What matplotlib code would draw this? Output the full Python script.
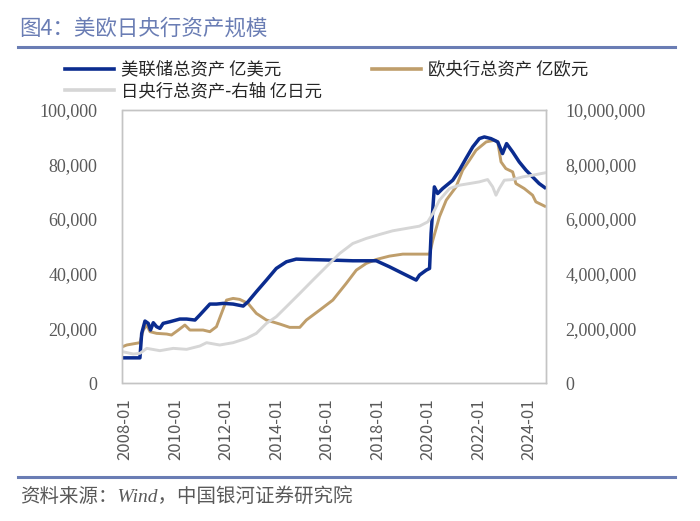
import matplotlib
matplotlib.use('Agg')
import matplotlib.pyplot as plt
from matplotlib.lines import Line2D
from matplotlib.ticker import FuncFormatter

plt.rcParams['font.family'] = ['Noto Sans CJK SC', 'DejaVu Sans']

# data (decimal years)
fed_t = [2007.90, 2008.59, 2008.66, 2008.79, 2008.92, 2009.01, 2009.12, 2009.25, 2009.38, 2009.51,
         2009.78, 2010.17, 2010.44, 2010.77, 2010.96, 2011.36, 2011.62, 2011.89, 2012.28, 2012.68,
         2012.87, 2013.20, 2013.60, 2013.99, 2014.39, 2014.78, 2015.18, 2016.23, 2017.02, 2017.95,
         2018.47, 2019.00, 2019.53, 2019.66, 2019.93, 2020.06, 2020.12, 2020.25, 2020.38, 2020.58,
         2020.98, 2021.24, 2021.50, 2021.77, 2022.03, 2022.23, 2022.49, 2022.76, 2022.95, 2023.11,
         2023.35, 2023.61, 2023.88, 2024.14, 2024.40, 2024.62]
fed_v = [9300, 9300, 18250, 22750, 21900, 19460, 22140, 20680, 20070, 21900,
         22500, 23480, 23480, 23110, 24940, 28950, 28950, 29200, 28950, 28220,
         29800, 33450, 37710, 41970, 44400, 45380, 45250, 45000, 44770, 44770,
         42580, 40140, 37710, 39540, 41360, 41970, 54740, 71770, 69340, 71170,
         74210, 77860, 82110, 86370, 89410, 90020, 89410, 88200, 83940, 87590,
         84550, 80900, 77860, 75420, 72990, 71530]

ecb_t = [2007.90, 2008.07, 2008.59, 2008.72, 2008.86, 2008.99, 2009.25, 2009.65, 2009.84, 2010.11,
         2010.37, 2010.57, 2010.83, 2011.09, 2011.36, 2011.62, 2011.82, 2012.02, 2012.28, 2012.54,
         2012.87, 2013.20, 2013.60, 2014.13, 2014.52, 2014.92, 2015.18, 2015.71, 2016.23, 2016.76,
         2017.16, 2017.55, 2017.95, 2018.47, 2019.00, 2019.66, 2020.06, 2020.19, 2020.45, 2020.72,
         2021.11, 2021.37, 2021.64, 2021.90, 2022.30, 2022.63, 2022.76, 2022.89, 2023.08, 2023.35,
         2023.48, 2023.81, 2024.14, 2024.27, 2024.62]
ecb_v = [13380, 14000, 14840, 19460, 21290, 18860, 18250, 18000, 17640, 19460,
         21290, 19460, 19460, 19460, 18860, 20680, 25550, 30410, 31020, 30660,
         29200, 25550, 23110, 21650, 20440, 20440, 23110, 26760, 30410, 36500,
         41360, 43790, 45250, 46470, 47200, 47200, 47200, 52310, 60830, 66910,
         71770, 77860, 81510, 85160, 88200, 88800, 88200, 80900, 78460, 77250,
         72990, 71170, 68730, 66300, 64720]

boj_t = [2007.90, 2008.33, 2008.59, 2008.86, 2009.38, 2009.91, 2010.44, 2010.96, 2011.23, 2011.75,
         2012.28, 2012.81, 2013.20, 2013.60, 2013.99, 2014.39, 2014.92, 2015.44, 2015.97, 2016.50,
         2017.02, 2017.55, 2018.08, 2018.60, 2019.13, 2019.66, 2019.99, 2020.19, 2020.45, 2020.85,
         2021.24, 2021.64, 2022.03, 2022.36, 2022.56, 2022.69, 2022.82, 2023.02, 2023.35, 2023.75,
         2024.14, 2024.62]
boj_v = [1156000, 1070000, 1095000, 1277000, 1192000, 1277000, 1241000, 1362000, 1484000, 1399000,
         1484000, 1642000, 1825000, 2190000, 2433000, 2798000, 3285000, 3771000, 4258000, 4744000,
         5109000, 5292000, 5438000, 5572000, 5657000, 5742000, 5900000, 6204000, 6691000, 7117000,
         7238000, 7299000, 7360000, 7445000, 7177000, 6873000, 7117000, 7421000, 7445000, 7542000,
         7603000, 7688000]

tick_years = [2008, 2010, 2012, 2014, 2016, 2018, 2020, 2022, 2024]
tick_labels = [f'{y}-01' for y in tick_years]

c_fed = '#0b2c8f'
c_ecb = '#bf9e6b'
c_boj = '#d6d6d6'
c_txt = '#595959'
c_rule = '#6a7db4'
serif = 'Liberation Serif'

fig = plt.figure(figsize=(7, 5.21), dpi=100)
ax = fig.add_axes([0.175, 0.2643, 0.6046, 0.5253])
ax2 = ax.twinx()

ax.plot(fed_t, fed_v, color=c_fed, lw=2.5, zorder=3)
ax.plot(ecb_t, ecb_v, color=c_ecb, lw=2.1, zorder=2)
ax2.plot(boj_t, boj_v, color=c_boj, lw=2.1)

ax.set_xlim(2007.9, 2024.66)
ax.set_ylim(0, 100000)
ax2.set_ylim(0, 10000000)
ax.set_yticks(range(0, 100001, 20000))
ax2.set_yticks(range(0, 10000001, 2000000))
fmt = FuncFormatter(lambda v, p: f'{int(v):,}')
ax.yaxis.set_major_formatter(fmt)
ax2.yaxis.set_major_formatter(fmt)
ax.set_xticks(tick_years)
ax.set_xticklabels(tick_labels, rotation=90, fontsize=12, color=c_txt)

ax.tick_params(axis='x', length=0, pad=11)
ax.tick_params(axis='y', length=0, pad=18, labelsize=13, labelcolor=c_txt)
ax2.tick_params(axis='y', length=0, pad=14, labelsize=13, labelcolor=c_txt)
for lab in ax.get_yticklabels() + ax2.get_yticklabels():
    lab.set_fontfamily(serif)

for a in (ax, ax2):
    for s in a.spines.values():
        s.set_color('#c4c4c4')
        s.set_linewidth(1.0)

# legend
handles = [Line2D([], [], color=c_fed, lw=2.6),
           Line2D([], [], color=c_boj, lw=2.6),
           Line2D([], [], color=c_ecb, lw=2.6)]
labels = ['美联储总资产 亿美元', '日央行总资产-右轴 亿日元', '欧央行总资产 亿欧元']
fig.legend(handles, labels, loc='upper left', bbox_to_anchor=(0.083, 0.897), ncol=2,
           frameon=False, fontsize=12.5, handlelength=2.8, handletextpad=0.4,
           columnspacing=2.9, labelspacing=0.2, labelcolor='#262626', borderaxespad=0)

# title, rules and source
fig.text(0.028, 0.946, '图4：美欧日央行资产规模', fontsize=15.5, color=c_rule, va='center')
fig.add_artist(Line2D([0.026, 0.964], [0.910, 0.910], color=c_rule, lw=2.2))
fig.add_artist(Line2D([0.026, 0.964], [0.085, 0.085], color=c_rule, lw=2.2))
fig.text(0.028, 0.046, '资料来源：Wind，中国银河证券研究院', fontsize=14, color=c_txt,
         va='center', style='italic', family=['Liberation Serif', 'Noto Sans CJK SC'])

fig.savefig('out.png', dpi=100, facecolor='white')
